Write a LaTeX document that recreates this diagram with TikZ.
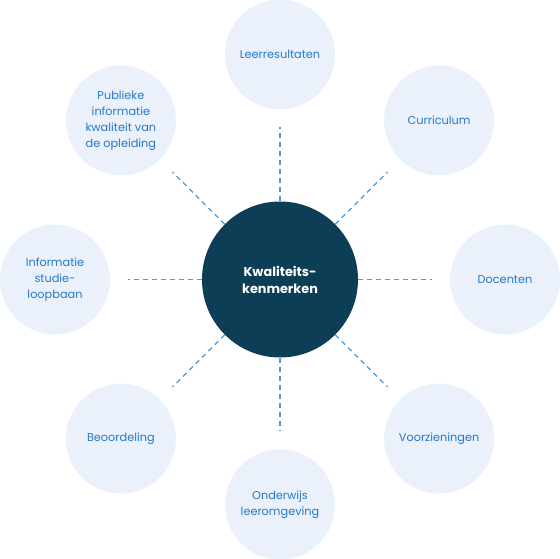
\documentclass[tikz,border=0pt]{standalone}
\usepackage{fontspec}
\setmainfont{Poppins}
\definecolor{kwDark}{RGB}{12,62,86}
\definecolor{kwLight}{RGB}{235,241,250}
\definecolor{kwBlue}{RGB}{38,120,200}
\definecolor{kwDash}{RGB}{80,155,220}

\begin{document}
\begin{tikzpicture}[
  x=1pt, y=1pt,
  core/.style={
    circle, fill=kwDark, minimum size=156pt, inner sep=0pt,
    text=white, align=center, font=\fontsize{12.8}{17}\selectfont\bfseries
  },
  item/.style={
    circle, fill=kwLight, minimum size=110pt, inner sep=0pt,
    text=kwBlue, align=center, font=\fontsize{11.3}{16}\selectfont
  },
  link/.style={dash pattern=on 5pt off 4pt, draw=kwDash, line width=1.2pt}
]
  \useasboundingbox (-280,-279.5) rectangle (280,279.5);
  \node[core] (K) at (0,0) {Kwaliteits-\\kenmerken};
  \node[item] (L) at (90:225) {Leerresultaten};
  \node[item] (C) at (45:225) {Curriculum};
  \node[item] (D) at (0:225) {Docenten};
  \node[item] (V) at (-45:225) {Voorzieningen};
  \node[item] (O) at (-90:225) {Onderwijs\\leeromgeving};
  \node[item] (B) at (-135:225) {Beoordeling};
  \node[item] (I) at (180:225) {Informatie\\studie-\\loopbaan};
  \node[item] (P) at (135:225) {Publieke\\informatie\\kwaliteit van\\de opleiding};
  \coordinate (eL) at (90:152);
  \coordinate (eC) at (45:152);
  \coordinate (eD) at (0:152);
  \coordinate (eV) at (-45:152);
  \coordinate (eO) at (-90:152);
  \coordinate (eB) at (-135:152);
  \coordinate (eI) at (180:152);
  \coordinate (eP) at (135:152);
  \draw[link] (K) -- (eL);
  \draw[link] (K) -- (eC);
  \draw[link] (K) -- (eD);
  \draw[link] (K) -- (eV);
  \draw[link] (K) -- (eO);
  \draw[link] (K) -- (eB);
  \draw[link] (K) -- (eI);
  \draw[link] (K) -- (eP);
\end{tikzpicture}
\end{document}
